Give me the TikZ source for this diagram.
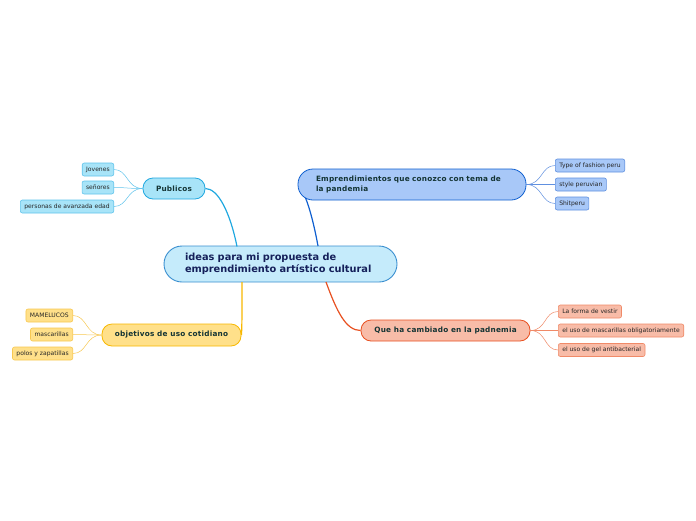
\documentclass[tikz,border=0pt]{standalone}
\usepackage{fontspec}
\setmainfont{DejaVu Sans}
\newfontfamily\brfont[LetterSpace=3]{DejaVu Sans}
\begin{document}
\begin{tikzpicture}[x=1pt,y=-1pt,
  cen/.style={draw=cenB,fill=cenF,line width=0.9pt,rounded corners=18pt,minimum width=233pt,minimum height=36pt,inner xsep=21pt,inner ysep=0pt,text width=191pt,align=left,font=\fontsize{9.8}{12}\selectfont\bfseries,text=cenT},
  branch/.style={line width=0.8pt,rounded corners=10pt,inner ysep=0pt,font=\brfont\fontsize{7.3}{10}\selectfont\bfseries,text=brT},
  leaf/.style={line width=0.6pt,rounded corners=2pt,inner xsep=4pt,inner ysep=0pt,minimum height=13pt,font=\fontsize{6.05}{7}\selectfont,text=black!85},
  conn/.style={line width=1.2pt},
  sub/.style={line width=0.5pt}
]
\definecolor{cenB}{HTML}{3A8FD0}\definecolor{cenF}{HTML}{C5EBFB}\definecolor{cenT}{HTML}{15205A}
\definecolor{brT}{HTML}{143434}
\definecolor{emB}{HTML}{1060D0}\definecolor{emF}{HTML}{A8C8F8}\definecolor{emL}{HTML}{6090E0}
\definecolor{quB}{HTML}{E85020}\definecolor{quF}{HTML}{F8BCA8}\definecolor{quL}{HTML}{F08A68}
\definecolor{obB}{HTML}{F8B800}\definecolor{obF}{HTML}{FFE08A}\definecolor{obL}{HTML}{F8C850}
\definecolor{puB}{HTML}{20A8E0}\definecolor{puF}{HTML}{A8E4F8}\definecolor{puL}{HTML}{60C4EC}
\useasboundingbox (0,0) rectangle (696,520);
\fill[white] (0,0) rectangle (696,520);

% central
\node[cen] (c) at (280.5,264) {ideas para mi propuesta de\\emprendimiento artístico cultural};

% branches
\node[branch,draw=emB,fill=emF,rounded corners=15pt,minimum width=228pt,minimum height=31pt,inner xsep=18pt,text width=192pt,align=left] (em) at (412,184.5) {Emprendimientos que conozco con tema de\\la pandemia};
\node[branch,draw=quB,fill=quF,minimum width=169pt,minimum height=21pt] (qu) at (445.5,330.5) {Que ha cambiado en la padnemia};
\node[branch,draw=obB,fill=obF,minimum width=139pt,minimum height=22pt] (ob) at (171.5,335) {objetivos de uso cotidiano};
\node[branch,draw=puB,fill=puF,minimum width=62pt,minimum height=21pt] (pu) at (174,188.5) {Publicos};

% main connectors
\coordinate (cpu) at (237,246.5);
\coordinate (cem) at (318,246);
\coordinate (cqu) at (326,282);
\coordinate (cob) at (242,282);
\coordinate (eem) at (305.5,198);
\draw[conn,draw=puB] (cpu) .. controls (230,212) and (218,188.5) .. (pu.east);
\draw[conn,draw=emB] (cem) .. controls (314,224) and (309,206) .. (eem);
\draw[conn,draw=quB] (cqu) .. controls (337,312) and (346,330.5) .. (qu.west);
\draw[conn,draw=obB] (cob) .. controls (242,310) and (242,330) .. (ob.east);

% leaves: Emprendimientos
\node[leaf,draw=emL,fill=emF,anchor=west] (e1) at (555,165.5) {Type of fashion peru};
\node[leaf,draw=emL,fill=emF,anchor=west] (e2) at (555,184.5) {style peruvian};
\node[leaf,draw=emL,fill=emF,anchor=west] (e3) at (555,203.5) {Shitperu};
\foreach \n in {e1,e2,e3}{\draw[sub,draw=emL] (em.east) .. controls +(16,0) and +(-14,0) .. (\n.west);}

% leaves: Que ha cambiado
\node[leaf,draw=quL,fill=quF,anchor=west] (q1) at (558,311.5) {La forma de vestir};
\node[leaf,draw=quL,fill=quF,anchor=west] (q2) at (558,330.5) {el uso de mascarillas obligatoriamente};
\node[leaf,draw=quL,fill=quF,anchor=west] (q3) at (558,350) {el uso de gel antibacterial};
\foreach \n in {q1,q2,q3}{\draw[sub,draw=quL] (qu.east) .. controls +(16,0) and +(-14,0) .. (\n.west);}

% leaves: objetivos
\node[leaf,draw=obL,fill=obF,anchor=east] (o1) at (73,315.5) {MAMELUCOS};
\node[leaf,draw=obL,fill=obF,anchor=east] (o2) at (73,334.5) {mascarillas};
\node[leaf,draw=obL,fill=obF,anchor=east] (o3) at (73,353.5) {polos y zapatillas};
\foreach \n in {o1,o2,o3}{\draw[sub,draw=obL] (ob.west) .. controls +(-16,0) and +(14,0) .. (\n.east);}

% leaves: Publicos
\node[leaf,draw=puL,fill=puF,anchor=east] (p1) at (114,169.5) {Jovenes};
\node[leaf,draw=puL,fill=puF,anchor=east] (p2) at (114,187.5) {señores};
\node[leaf,draw=puL,fill=puF,anchor=east] (p3) at (114,206.5) {personas de avanzada edad};
\foreach \n in {p1,p2,p3}{\draw[sub,draw=puL] (pu.west) .. controls +(-16,0) and +(14,0) .. (\n.east);}
\end{tikzpicture}
\end{document}
